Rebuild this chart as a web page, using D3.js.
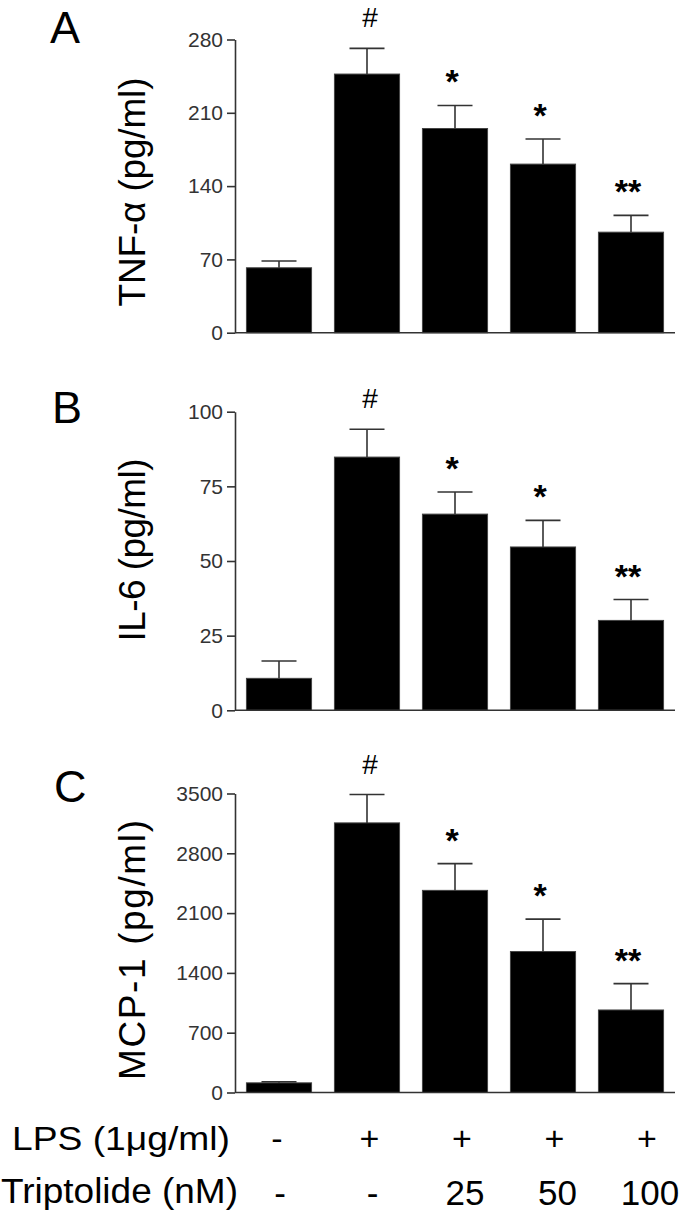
<!DOCTYPE html>
<html>
<head>
<meta charset="utf-8">
<script src="https://cdn.jsdelivr.net/npm/d3@7"></script>
<style>
  body { margin: 0; background: #fff; }
  svg { display: block; font-family: "Liberation Sans", Arial, sans-serif; }
</style>
</head>
<body>
<div id="chart"></div>
<script>
// groups along x
const groups = ["ctrl", "lps", "t25", "t50", "t100"];

// TNF-a (pg/ml)
const tnfMean = [62, 247, 195, 161, 96];
const tnfSem = [6.5, 24.5, 22, 24, 16];
const tnfTicks = [0, 70, 140, 210, 280];

// IL-6 (pg/ml)
const il6Mean = [10.7, 84.8, 65.7, 54.7, 30.1];
const il6Sem = [5.8, 9.3, 7.4, 8.9, 7.0];
const il6Ticks = [0, 25, 50, 75, 100];

// MCP-1 (pg/ml)
const mcpMean = [113, 3156, 2366, 1650, 966];
const mcpSem = [12, 332, 313, 380, 309];
const mcpTicks = [0, 700, 1400, 2100, 2800, 3500];

// significance marks
const signif = ["", "#", "*", "*", "**"];

// treatment table under the bars
const lpsRow = ["-", "+", "+", "+", "+"];
const tripRow = ["-", "-", "25", "50", "100"];

const width = 685, height = 1219;
const axisCol = "#333";

const svg = d3.select("#chart").append("svg")
  .attr("width", width)
  .attr("height", height);

const x = d3.scaleBand()
  .domain(groups)
  .range([235, 675])
  .paddingInner(0.26)
  .paddingOuter(0.13);

// panel layout
const panels = [
  { letter: "A", label: "TNF-α (pg/ml)", mean: tnfMean, sem: tnfSem, ticks: tnfTicks,
    top: 39.5, bottom: 332.7, letterX: 50, letterY: 43, labelY: 192, labelLen: 229 },
  { letter: "B", label: "IL-6 (pg/ml)", mean: il6Mean, sem: il6Sem, ticks: il6Ticks,
    top: 411.7, bottom: 710.3, letterX: 52, letterY: 423, labelY: 550, labelLen: 183 },
  { letter: "C", label: "MCP-1 (pg/ml)", mean: mcpMean, sem: mcpSem, ticks: mcpTicks,
    top: 793.5, bottom: 1092.5, letterX: 54, letterY: 802, labelY: 950, labelLen: 260 }
];

panels.forEach(p => {
  const g = svg.append("g");
  const y = d3.scaleLinear()
    .domain([0, d3.max(p.ticks)])
    .range([p.bottom, p.top]);

  const rows = groups.map((k, i) => ({ key: k, mean: p.mean[i], sem: p.sem[i], mark: signif[i] }));

  // bars
  g.selectAll("rect.bar")
    .data(rows)
    .join("rect")
    .attr("class", "bar")
    .attr("x", d => x(d.key))
    .attr("width", x.bandwidth())
    .attr("y", d => y(d.mean))
    .attr("height", d => y(0) - y(d.mean))
    .attr("fill", "#000")
    .attr("stroke", "#444")
    .attr("stroke-width", 1);

  // error bars (upper only)
  const cx = d => x(d.key) + x.bandwidth() / 2;
  g.selectAll("line.err")
    .data(rows)
    .join("line")
    .attr("x1", cx).attr("x2", cx)
    .attr("y1", d => y(d.mean))
    .attr("y2", d => y(d.mean + d.sem))
    .attr("stroke", axisCol)
    .attr("stroke-width", 1.6);
  g.selectAll("line.cap")
    .data(rows)
    .join("line")
    .attr("x1", d => cx(d) - 17.5).attr("x2", d => cx(d) + 17.5)
    .attr("y1", d => y(d.mean + d.sem))
    .attr("y2", d => y(d.mean + d.sem))
    .attr("stroke", axisCol)
    .attr("stroke-width", 1.6);

  // significance marks
  g.selectAll("text.sig")
    .data(rows.filter(d => d.mark))
    .join("text")
    .attr("x", d => cx(d) + (d.mark == "#" ? 3 : -3))
    .attr("y", d => y(d.mean + d.sem) - (d.mark == "#" ? 21 : 12))
    .attr("text-anchor", "middle")
    .attr("font-size", d => d.mark == "#" ? 28 : 34)
    .attr("font-weight", d => d.mark == "#" ? "normal" : "bold")
    .text(d => d.mark);

  // y axis
  const yAxis = g.append("g")
    .attr("transform", `translate(${x.range()[0]},0)`)
    .call(d3.axisLeft(y).tickValues(p.ticks).tickFormat(d3.format("d"))
      .tickSize(8).tickSizeOuter(0).tickPadding(4));
  yAxis.select(".domain").attr("stroke", axisCol).attr("stroke-width", 1.6);
  yAxis.selectAll(".tick line").attr("stroke", axisCol).attr("stroke-width", 1.6);
  yAxis.selectAll(".tick text")
    .attr("font-size", 21)
    .attr("font-family", "'Liberation Sans', Arial, sans-serif")
    .attr("fill", "#333");

  // x baseline
  g.append("line")
    .attr("x1", x.range()[0]).attr("x2", x.range()[1])
    .attr("y1", y(0)).attr("y2", y(0))
    .attr("stroke", axisCol)
    .attr("stroke-width", 1.6);

  // y label
  g.append("text")
    .attr("transform", `translate(145,${p.labelY}) rotate(-90)`)
    .attr("text-anchor", "middle")
    .attr("font-size", 37)
    .attr("textLength", p.labelLen)
    .text(p.label);

  // panel letter
  g.append("text")
    .attr("x", p.letterX)
    .attr("y", p.letterY)
    .attr("font-size", 45)
    .text(p.letter);
});

// treatment table
const xt = d3.scalePoint()
  .domain(groups)
  .range([277, 647]);

svg.append("text")
  .attr("x", 12).attr("y", 1150)
  .attr("font-size", 34)
  .attr("textLength", 218)
  .attr("lengthAdjust", "spacingAndGlyphs")
  .text("LPS (1μg/ml)");
svg.append("text")
  .attr("x", 1).attr("y", 1203)
  .attr("font-size", 35)
  .attr("textLength", 237)
  .attr("lengthAdjust", "spacingAndGlyphs")
  .text("Triptolide (nM)");

svg.selectAll("text.lps")
  .data(groups)
  .join("text")
  .attr("class", "lps")
  .attr("x", d => xt(d))
  .attr("y", 1150)
  .attr("text-anchor", "middle")
  .attr("font-size", 34)
  .text((d, i) => lpsRow[i]);

svg.selectAll("text.trip")
  .data(groups)
  .join("text")
  .attr("class", "trip")
  .attr("x", d => xt(d) + 3)
  .attr("y", 1205)
  .attr("text-anchor", "middle")
  .attr("font-size", 35)
  .text((d, i) => tripRow[i]);
</script>
</body>
</html>
